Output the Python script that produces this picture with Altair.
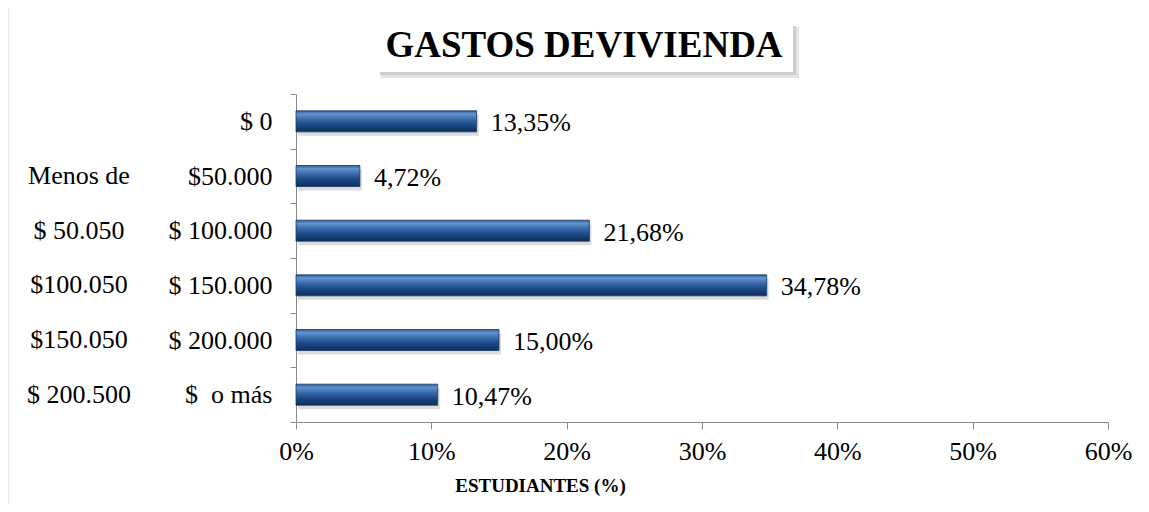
import altair as alt
import pandas as pd

# ---- data ----
right_labels = ["$ 0", "$50.000", "$ 100.000", "$ 150.000", "$ 200.000", "$\u00a0\u00a0o más"]
left_labels = ["", "Menos de", "$ 50.050", "$100.050", "$150.050", "$ 200.500"]
values = [0.1335, 0.0472, 0.2168, 0.3478, 0.1500, 0.1047]
x_ticks = [0, 0.1, 0.2, 0.3, 0.4, 0.5, 0.6]
title_text = "GASTOS DEVIVIENDA"
x_title = "ESTUDIANTES (%)"

df = pd.DataFrame({"cat": right_labels, "left": left_labels, "value": values})
df["label"] = [f"{v*100:.2f}%".replace(".", ",") for v in values]

FONT = "Liberation Serif"
FS = 26
W, H = 812, 328

y_enc = alt.Y("cat:N", sort=right_labels, title=None,
              scale=alt.Scale(paddingInner=0.0, paddingOuter=0.0),
              axis=alt.Axis(labelFont=FONT, labelFontSize=FS, labelColor="#000000",
                            labelPadding=18, tickSize=6, tickColor="#888888",
                            domainColor="#888888", tickBand="extent", labelAlign="right"))
x_enc = alt.X("value:Q", title=x_title,
              scale=alt.Scale(domain=[0, 0.6], nice=False),
              axis=alt.Axis(values=x_ticks, format=".0%", labelFont=FONT, labelFontSize=FS,
                            labelColor="#000000", labelPadding=9, tickSize=7,
                            labelFlush=False, labelOverlap=False,
                            tickColor="#888888", domainColor="#888888", grid=False,
                            titleFont=FONT, titleFontSize=19, titleFontWeight="bold",
                            titleColor="#000000", titleX=244, titleY=63,
                            titleBaseline="middle", titleAlign="center"))

base = alt.Chart(df)

grad = alt.LinearGradient(
    gradient="linear", x1=0, x2=0, y1=0, y2=1,
    stops=[alt.GradientStop(color="#2c5a96", offset=0),
           alt.GradientStop(color="#6394d0", offset=0.15),
           alt.GradientStop(color="#3a6aab", offset=0.4),
           alt.GradientStop(color="#1d4b88", offset=0.65),
           alt.GradientStop(color="#0d2d58", offset=1)])

shadow = base.mark_bar(size=21, color="#9a9a9a", opacity=0.35, yOffset=4, xOffset=2).encode(
    x=alt.X("value:Q", scale=alt.Scale(domain=[0, 0.6], nice=False)), y=alt.Y("cat:N", sort=right_labels))
bars = base.mark_bar(size=21, color=grad, stroke="#173a68", strokeWidth=0.8).encode(x=x_enc, y=y_enc)
vals = base.mark_text(align="left", baseline="middle", dx=14, dy=2, font=FONT,
                      fontSize=FS, color="#000000").encode(
    x="value:Q", y=alt.Y("cat:N", sort=right_labels), text="label:N")
lefts = base.mark_text(align="center", baseline="middle", font=FONT, fontSize=FS,
                       color="#000000").encode(
    x=alt.value(-217), y=alt.Y("cat:N", sort=right_labels), text="left:N")

# title box with shadow
deco = pd.DataFrame({"t": [title_text]})
tb = alt.Chart(deco)
tshadow2 = tb.mark_rect(color="#e4e4e4").encode(
    x=alt.value(85), x2=alt.value(503), y=alt.value(-67), y2=alt.value(-16))
tshadow = tb.mark_rect(color="#cdcdcd").encode(
    x=alt.value(84), x2=alt.value(500), y=alt.value(-68), y2=alt.value(-19))
tbox = tb.mark_rect(color="#ffffff").encode(
    x=alt.value(81), x2=alt.value(497), y=alt.value(-71), y2=alt.value(-22))
ttext = tb.mark_text(font=FONT, fontSize=37, fontWeight="bold", color="#000000",
                     align="center", baseline="middle").encode(
    x=alt.value(288), y=alt.value(-48), text="t:N")
border = tb.mark_rule(color="#d6d6d6", strokeWidth=3).encode(
    x=alt.value(-289), y=alt.value(-87), y2=alt.value(420))

chart = alt.layer(border, tshadow2, tshadow, tbox, ttext, shadow, bars, vals, lefts).properties(
    width=W, height=H,
    autosize=alt.AutoSizeParams(type="none"),
    padding={"left": 288, "top": 86, "right": 33, "bottom": 82},
    background="#ffffff",
).configure_view(stroke=None)

chart.save("out.html", embed_options={"renderer": "svg", "actions": False})
